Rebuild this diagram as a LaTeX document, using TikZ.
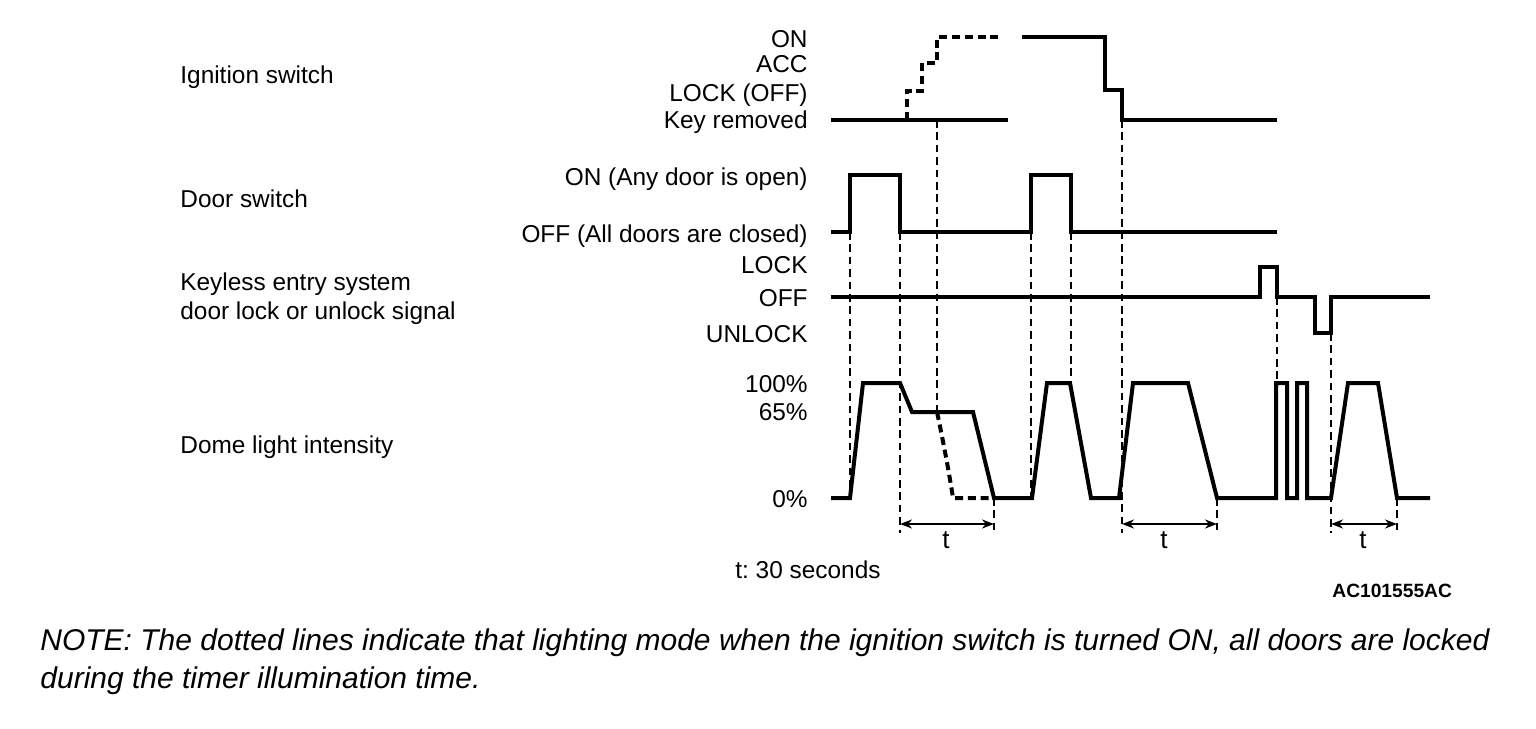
\documentclass[tikz,border=0pt]{standalone}
\usepackage{fontspec}
\setmainfont{Liberation Sans}
\usetikzlibrary{arrows.meta}
\frenchspacing
\begin{document}
\begin{tikzpicture}[x=0.5pt,y=-0.5pt,
  sig/.style={line width=2pt, line join=miter, line cap=butt},
  sigdash/.style={line width=2pt, dash pattern=on 4pt off 2.4pt},
  guide/.style={line width=0.8pt, dash pattern=on 3.8pt off 2.4pt},
  dimline/.style={line width=1pt, {Stealth[length=6pt,width=4.5pt]}-{Stealth[length=6pt,width=4.5pt]}},
  lbl/.style={font=\fontsize{12.2}{14}\selectfont, inner sep=0pt},
  rlbl/.style={lbl, anchor=base east},
  llbl/.style={lbl, anchor=base west},
  notetext/.style={anchor=base west, inner sep=0pt, font=\fontsize{15}{14}\selectfont\itshape},
]
\useasboundingbox (0,0) rectangle (1536,728);

% ---------- left labels ----------
\node[llbl] (ign) at (180,83) {Ignition switch};
\node[llbl] (door) at (180,207) {Door switch};
\node[llbl] (key1) at (180,290) {Keyless entry system};
\node[llbl] (key2) at (180,319) {door lock or unlock signal};
\node[llbl] (dome) at (180,453) {Dome light intensity};

% ---------- level labels ----------
\node[rlbl] (lon) at (808,47) {ON};
\node[rlbl] (lacc) at (808,72) {ACC};
\node[rlbl] (llock) at (808,101) {LOCK (OFF)};
\node[rlbl] (lkey) at (808,128) {Key removed};
\node[rlbl] (ldon) at (808,185) {ON (Any door is open)};
\node[rlbl] (ldoff) at (808,242) {OFF (All doors are closed)};
\node[rlbl] (kl) at (808,273) {LOCK};
\node[rlbl] (ko) at (808,306) {OFF};
\node[rlbl] (ku) at (808,342) {UNLOCK};
\node[rlbl] (p100) at (808,392) {100\%};
\node[rlbl] (p65) at (808,420) {65\%};
\node[rlbl] (p0) at (808,507) {0\%};
\node[llbl] (tnote) at (735,578) {t: 30 seconds};

% ---------- guide lines ----------
\draw[guide] (850,232) -- (850,498);
\draw[guide] (900,232) -- (900,533);
\draw[guide] (937,120) -- (937,412);
\draw[guide] (994,498) -- (994,533);
\draw[guide] (1031,232) -- (1031,498);
\draw[guide] (1071,232) -- (1071,383);
\draw[guide] (1122,120) -- (1122,533);
\draw[guide] (1217,498) -- (1217,533);
\draw[guide] (1277,297) -- (1277,383);
\draw[guide] (1331,333) -- (1331,533);
\draw[guide] (1397,498) -- (1397,533);

% ---------- ignition switch ----------
\draw[sig] (831,120) -- (1008,120);
\draw[sigdash] (907,120) -- (907,91) -- (922,91) -- (922,63) -- (937,63) -- (937,37) -- (1000,37);
\draw[sig] (1022,37) -- (1105,37) -- (1105,90) -- (1122,90) -- (1122,120) -- (1277,120);

% ---------- door switch ----------
\draw[sig] (831,232) -- (850,232) -- (850,175) -- (900,175) -- (900,232) -- (1031,232)
  -- (1031,175) -- (1071,175) -- (1071,232) -- (1277,232);

% ---------- keyless entry ----------
\draw[sig] (831,297) -- (1260,297) -- (1260,267) -- (1277,267) -- (1277,297) -- (1315,297)
  -- (1315,333) -- (1331,333) -- (1331,297) -- (1430,297);

% ---------- dome light ----------
\draw[sig] (831,498) -- (850,498) -- (863,383) -- (900,383) -- (912,412) -- (973,412)
  -- (994,498) -- (1032,498) -- (1047,383) -- (1070,383) -- (1091,498) -- (1119,498)
  -- (1133,383) -- (1188,383) -- (1217,498) -- (1276,498) -- (1276,383) -- (1287,383)
  -- (1287,498) -- (1297,498) -- (1297,383) -- (1307,383) -- (1307,498) -- (1331,498)
  -- (1348,383) -- (1378,383) -- (1397,498) -- (1430,498);
\draw[sigdash] (937,412) .. controls (944,445) and (950,478) .. (953,498) -- (994,498);

% ---------- time spans ----------
\coordinate (a1) at (900,524); \coordinate (b1) at (994,524);
\coordinate (a2) at (1122,524); \coordinate (b2) at (1217,524);
\coordinate (a3) at (1331,524); \coordinate (b3) at (1397,524);
\draw[dimline] (a1) -- (b1);
\draw[dimline] (a2) -- (b2);
\draw[dimline] (a3) -- (b3);
\node[lbl, anchor=base, font=\fontsize{13}{14}\selectfont] (t1) at (946,548) {t};
\node[lbl, anchor=base, font=\fontsize{13}{14}\selectfont] (t2) at (1164,548) {t};
\node[lbl, anchor=base, font=\fontsize{13}{14}\selectfont] (t3) at (1363,548) {t};

% ---------- code and note ----------
\node[anchor=base west, inner sep=0pt, font=\fontsize{9.6}{11}\selectfont\bfseries] (code) at (1332,597) {AC101555AC};
\node[notetext] (note1) at (40,650)
  {NOTE: The dotted lines indicate that lighting mode when the ignition switch is turned ON, all doors are locked};
\node[notetext] (note2) at (40,688) {during the timer illumination time.};
\end{tikzpicture}
\end{document}
